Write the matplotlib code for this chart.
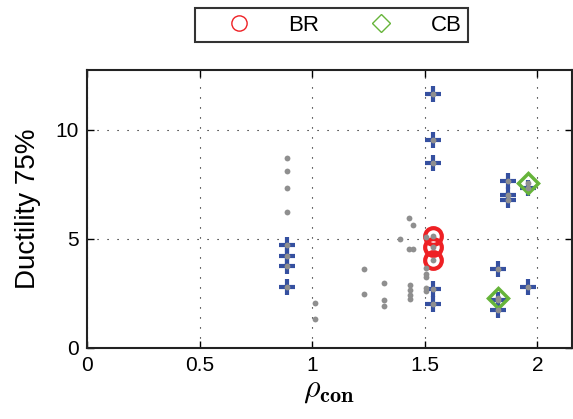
import matplotlib
matplotlib.use("Agg")
import matplotlib.pyplot as plt
from matplotlib.lines import Line2D

plt.rcParams['font.family'] = ['Liberation Sans', 'DejaVu Sans']
plt.rcParams['mathtext.fontset'] = 'cm'

# highlighted specimens (blue crosses)
plus_x = [0.889, 0.889, 0.889, 0.889,
          1.538, 1.538, 1.538, 1.538, 1.538,
          1.868, 1.868, 1.868,
          1.957, 1.957,
          1.826, 1.826, 1.826]
plus_y = [4.74, 4.23, 3.77, 2.80,
          11.62, 9.55, 8.47, 2.71, 2.00,
          7.67, 7.03, 6.76,
          7.31, 2.80,
          3.62, 2.22, 1.76]

# BR group
br_x = [1.538, 1.538, 1.538]
br_y = [5.13, 4.64, 4.05]

# CB group
cb_x = [1.957, 1.826]
cb_y = [7.57, 2.27]

# remaining database points (gray)
gray_x = [0.889, 0.889, 0.889, 0.889,
          1.01, 1.01,
          1.23, 1.23,
          1.319, 1.319, 1.319,
          1.39,
          1.428, 1.428,
          1.449, 1.449,
          1.434, 1.434, 1.434, 1.434,
          1.505, 1.505, 1.505, 1.505, 1.505, 1.505]
gray_y = [8.71, 8.13, 7.32, 6.25,
          2.06, 1.34,
          3.62, 2.46,
          2.98, 2.18, 1.91,
          5.00,
          5.96, 4.54,
          5.63, 4.54,
          2.89, 2.64, 2.44, 2.25,
          5.09, 3.67, 3.41, 3.26, 2.75, 2.60]

fig = plt.figure(figsize=(5.73, 4.19), dpi=100)
ax = fig.add_axes([0.152, 0.1695, 0.846, 0.664])

ax.plot(plus_x, plus_y, '+', color='#3550a0', markersize=12, markeredgewidth=3.0, linestyle='none')
ax.plot(br_x, br_y, 'o', mfc='none', mec='#ee2024', markersize=12, markeredgewidth=3, linestyle='none')
ax.plot(cb_x, cb_y, 'D', mfc='none', mec='#66b43a', markersize=10.5, markeredgewidth=2.5, linestyle='none')

# gray dots drawn on top of every specimen
all_x = gray_x + plus_x + br_x + cb_x
all_y = gray_y + plus_y + br_y + cb_y
ax.plot(all_x, all_y, 'o', color='#8f8f8f', markersize=4.2, markeredgewidth=0, linestyle='none')

ax.set_xlim(0, 2.153)
ax.set_ylim(0, 12.75)
ax.set_xticks([0, 0.5, 1, 1.5, 2])
ax.set_xticklabels(['0', '0.5', '1', '1.5', '2'])
ax.set_yticks([0, 5, 10])
ax.grid(True, color='black', linestyle=(0, (1, 8)), linewidth=0.8)
ax.tick_params(direction='in', top=True, right=True, labelsize=15, length=5, width=1, pad=6)
for s in ax.spines.values():
    s.set_linewidth(1.5)
    s.set_color('#222222')

ax.set_ylabel('Ductility 75%', fontsize=20, labelpad=10)
ax.set_xlabel(r'$\rho_{\mathbf{con}}$', fontsize=23, labelpad=0)

handles = [
    Line2D([], [], marker='o', mfc='none', mec='#ee2024', markersize=11, markeredgewidth=1, linestyle='none'),
    Line2D([], [], marker='D', mfc='none', mec='#66b43a', markersize=9, markeredgewidth=1, linestyle='none'),
]
leg = fig.legend(handles, ['BR', 'CB'], loc='center', bbox_to_anchor=(0.579, 0.94), ncol=2,
                 fontsize=16, frameon=True, fancybox=False, edgecolor='black',
                 handlelength=3.3, handletextpad=0.6, columnspacing=1.1, borderpad=0.3)
leg.get_frame().set_linewidth(1.5)

fig.savefig('out.png', dpi=100)
